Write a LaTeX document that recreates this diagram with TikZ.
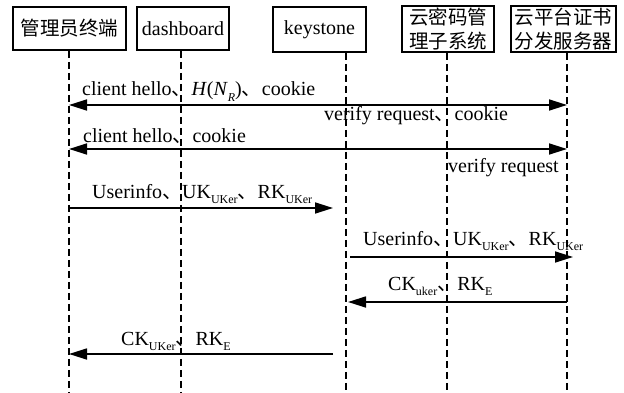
\documentclass[tikz,border=0pt]{standalone}
\usepackage{fontspec}
\setmainfont{Liberation Serif}
\newfontfamily\cjk{Noto Sans CJK SC}
\usetikzlibrary{arrows.meta}
% enumeration comma and lowered subscript
\newcommand\dun{{\cjk 、}}
\newcommand\lowsub[1]{\raisebox{-0.28em}{\fontsize{12}{12}\selectfont #1}}
\begin{document}
\begin{tikzpicture}[x=1pt,y=-1pt,
  actor/.style={draw,line width=1.8pt,inner sep=0pt,align=center,
    font=\fontsize{20}{23.5}\selectfont},
  lifeline/.style={line width=1.8pt,dash pattern=on 7pt off 4pt},
  msg/.style={line width=1.7pt,-{Triangle[length=18pt,width=11pt]}},
  msgboth/.style={line width=1.7pt,{Triangle[length=18pt,width=11pt]}-{Triangle[length=18pt,width=11pt]}},
  lbl/.style={anchor=base west,inner sep=0pt,font=\fontsize{20}{23.5}\selectfont}]
\useasboundingbox (0,0) rectangle (624,393);
\fill[white] (0,0) rectangle (624,393);

% participants
\node[actor,minimum width=113pt,minimum height=43pt,font=\fontsize{19.5}{23.5}\selectfont\cjk] (b1) at (69.5,28.5) {管理员终端};
\node[actor,minimum width=92pt,minimum height=43pt] (b2) at (183,28.5) {dashboard};
\node[actor,minimum width=93pt,minimum height=45pt] (b3) at (319.5,29.5) {keystone};
\node[actor,minimum width=92pt,minimum height=46pt,font=\fontsize{19.5}{23.5}\selectfont\cjk] (b4) at (448,29) {云密码管\\理子系统};
\node[actor,minimum width=105pt,minimum height=46pt,font=\fontsize{19.5}{23.5}\selectfont\cjk] (b5) at (563.5,29) {云平台证书\\分发服务器};

% lifeline ends
\coordinate (e1) at (69,393);
\coordinate (e2) at (181,393);
\coordinate (e3) at (346,393);
\coordinate (e4) at (447,393);
\coordinate (e5) at (567,393);
\draw[lifeline] (b1.south -| e1) -- (e1);
\draw[lifeline] (b2.south -| e2) -- (e2);
\draw[lifeline] (b3.south -| e3) -- (e3);
\draw[lifeline] (b4.south -| e4) -- (e4);
\draw[lifeline] (b5.south -| e5) -- (e5);

% message end points
\coordinate (m1a) at (69,105);  \coordinate (m1b) at (567,105);
\coordinate (m2a) at (69,149);  \coordinate (m2b) at (567,149);
\coordinate (m3a) at (69,208);  \coordinate (m3b) at (333,208);
\coordinate (m4a) at (350,257); \coordinate (m4b) at (573,257);
\coordinate (m5a) at (567,302); \coordinate (m5b) at (348,302);
\coordinate (m6a) at (333,354); \coordinate (m6b) at (69,354);

\draw[msgboth] (m1a) -- (m1b);
\draw[msgboth] (m2a) -- (m2b);
\draw[msg] (m3a) -- (m3b);
\draw[msg] (m4a) -- (m4b);
\draw[msg] (m5a) -- (m5b);
\draw[msg] (m6a) -- (m6b);

% message labels
\node[lbl] (t1) at (82,96) {client hello\dun\textit{H}(\textit{N}\lowsub{\textit{R}})\dun cookie};
\node[lbl] (t1b) at (324,121) {verify request\dun cookie};
\node[lbl] (t2) at (83,143) {client hello\dun cookie};
\node[lbl] (t2b) at (448,172) {verify request};
\node[lbl] (t3) at (92,198) {Userinfo\dun UK\lowsub{UKer}\dun RK\lowsub{UKer}};
\node[lbl] (t4) at (363,245) {Userinfo\dun UK\lowsub{UKer}\dun RK\lowsub{UKer}};
\node[lbl] (t5) at (388,290) {CK\lowsub{uker}\dun RK\lowsub{E}};
\node[lbl] (t6) at (121,345) {CK\lowsub{UKer}\dun RK\lowsub{E}};
\end{tikzpicture}
\end{document}
